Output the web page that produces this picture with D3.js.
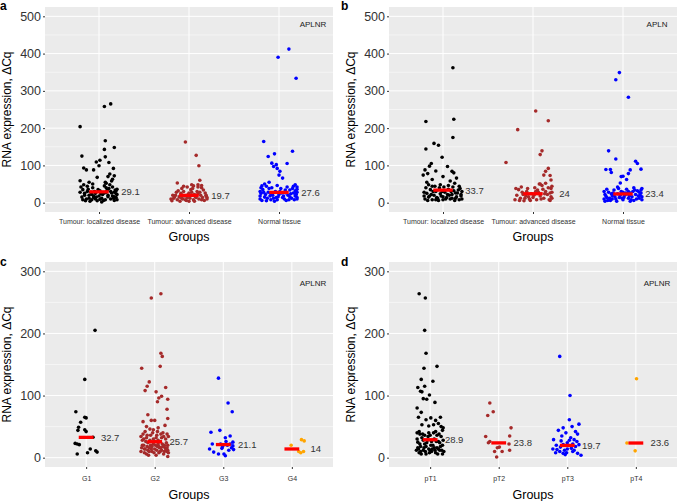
<!DOCTYPE html>
<html><head><meta charset="utf-8">
<script src="https://cdn.jsdelivr.net/npm/d3@7"></script>
<style>body{margin:0;background:#fff} text{font-family:"Liberation Sans",Arial,Helvetica,sans-serif}</style>
</head><body><svg id="chart" width="678" height="501"></svg>
<script>
// ---------- data ----------
const groupsTumour = ["Tumour: localized disease","Tumour: advanced disease","Normal tissue"];
const groupsGrade = ["G1","G2","G3","G4"];
const groupsStage = ["pT1","pT2","pT3","pT4"];
const ticksTop = [0,100,200,300,400,500];
const ticksBottom = [0,100,200,300];
const genes = ["APLNR","APLN","APLNR","APLNR"];
const medA = [29.1,19.7,27.6];
const medB = [33.7,24,23.4];
const medC = [32.7,25.7,21.1,14];
const medD = [28.9,23.8,19.7,23.6];
// points: [jitter (category units), value]
const aLocalized = [[0.13,265],[0.06,258],[-0.21,204],[0.07,166],[0.17,148],[0.06,143],[-0.19,125],[0.07,123],[0.01,114],[-0.03,109],[0.11,108],[-0.17,93],[-0.14,88],[-0.06,88],[0.16,92],[0.0,99],[0.12,77],[0.1,70],[0.17,72],[-0.21,59],[-0.11,55],[-0.07,50],[0.07,55],[0.15,63],[-0.02,68],
[-0.2,42],[-0.18,35],[-0.16,25],[-0.19,15],[-0.14,10],[-0.13,30],[-0.11,20],[-0.08,8],[-0.07,40],[-0.06,14],[-0.04,25],[-0.02,5],[0,18],[0.01,32],[0.03,12],[0.04,22],[0.06,45],[0.07,8],[0.08,28],[0.1,16],[0.11,38],[0.13,10],[0.14,26],[0.15,18],[0.17,6],[0.18,34],[0.19,14],[0.2,22],[-0.18,8],[-0.16,20],[-0.13,44],[-0.11,12],[-0.09,28],[-0.06,18],[-0.04,10],[-0.01,35],[0.02,24],[0.05,6],[0.08,40],[0.1,20],[0.13,30],[0.16,12],[0.19,24],[0.2,8],[-0.21,28],[-0.15,5],[-0.08,22],[-0.03,15],[0.03,2],[0.09,33],[0.15,42],[0.17,16],[-0.12,36],[0.06,26],[0.12,48],[0.2,36],[-0.17,48],[0.01,9],[0.17,28],[-0.05,30],[0.08,52],[0.14,58],[0.19,32],[-0.1,4]];
const aAdvanced = [[-0.04,163],[0.08,127],[0.11,99],[0.12,60],[-0.13,53],[0.1,48],[0.05,45],[-0.02,42],[0.14,40],[-0.08,38],[0.02,35],
[-0.19,5],[-0.17,12],[-0.15,20],[-0.13,8],[-0.11,15],[-0.09,25],[-0.07,10],[-0.05,18],[-0.03,6],[-0.01,22],[0.01,12],[0.03,28],[0.05,8],[0.07,16],[0.09,30],[0.11,10],[0.13,20],[0.15,14],[0.17,6],[0.19,18],[0.2,10],[-0.18,20],[-0.14,28],[-0.1,4],[-0.06,30],[-0.02,14],[0.02,20],[0.06,4],[0.1,24],[0.14,8],[0.18,26],[-0.16,16],[-0.12,32],[-0.08,12],[-0.04,8],[0,26],[0.04,38],[0.08,14],[0.12,28],[0.16,34],[0.2,14],[-0.2,10],[0.19,20],[-0.1,18],[0.0,4],[0.06,22],[0.1,42],[-0.06,44],[0.03,48],[0.14,46]];
const aNormal = [[0.11,412],[-0.01,390],[0.19,334],[-0.17,164],[0.15,138],[-0.05,131],[-0.12,124],[0.09,105],[-0.08,106],[-0.03,102],[-0.06,97],[-0.02,92],[0.01,84],[0.0,74],[0.04,66],[-0.11,55],[-0.16,50],[-0.19,45],[0.18,48],[0.2,42],
[-0.21,10],[-0.2,25],[-0.18,35],[-0.16,15],[-0.14,5],[-0.12,28],[-0.1,18],[-0.08,40],[-0.06,12],[-0.04,30],[-0.02,8],[0,22],[0.02,38],[0.04,14],[0.06,28],[0.08,6],[0.1,20],[0.12,34],[0.14,12],[0.16,26],[0.18,18],[0.19,30],[0.2,10],[-0.21,18],[-0.17,28],[-0.13,12],[-0.09,24],[-0.05,4],[-0.01,16],[0.03,26],[0.07,34],[0.11,8],[0.15,38],[0.19,22],[0.2,14],[-0.19,6],[-0.15,22],[-0.11,38],[-0.07,20],[-0.03,14],[0.01,30],[0.05,18],[0.09,42],[0.13,24],[0.17,8],[0.2,36],[-0.21,30],[0.2,28],[0.16,44],[0.12,16],[-0.14,44],[-0.02,46],[0.06,10],[-0.09,8],[0.18,32],[0.19,22],[-0.2,40],[0.08,26]];
const bLocalized = [[0.11,362],[-0.19,218],[0.12,224],[0.11,175],[-0.19,144],[-0.1,159],[-0.05,154],[-0.01,122],[0.05,97],[-0.13,105],[-0.15,98],[-0.2,88],[-0.17,78],[0.1,84],[0.12,80],[-0.08,85],[-0.22,74],[0.0,70],[0.15,66],[-0.12,62],[0.08,58],[-0.18,55],[0.13,52],[-0.03,48],
[-0.2,10],[-0.18,25],[-0.16,15],[-0.14,35],[-0.12,8],[-0.1,20],[-0.08,30],[-0.06,12],[-0.04,40],[-0.02,18],[0,8],[0.02,28],[0.04,14],[0.06,36],[0.08,10],[0.1,22],[0.12,32],[0.14,12],[0.16,26],[0.18,8],[0.2,18],[0.21,30],[-0.21,28],[-0.17,6],[-0.13,22],[-0.09,44],[-0.05,6],[-0.01,30],[0.03,10],[0.07,20],[0.11,42],[0.15,16],[0.19,38],[0.21,10],[-0.19,40],[-0.15,18],[-0.11,30],[-0.07,14],[-0.03,24],[0.01,42],[0.05,22],[0.09,30],[0.13,6],[0.17,34],[0.2,22],[-0.16,48],[0.0,16],[0.06,46],[0.18,44],[-0.21,18],[0.14,26],[-0.08,8],[0.1,12],[-0.12,44]];
const bAdvanced = [[0.03,246],[0.17,220],[-0.17,196],[-0.3,108],[0.1,139],[0.08,129],[0.17,92],[0.14,84],[0.12,74],[0.19,73],[0.2,61],[0.14,52],[0.08,50],
[-0.2,8],[-0.18,20],[-0.16,35],[-0.14,12],[-0.12,28],[-0.1,5],[-0.08,18],[-0.06,38],[-0.04,10],[-0.02,24],[0,14],[0.02,40],[0.04,8],[0.06,28],[0.08,18],[0.1,46],[0.12,12],[0.14,30],[0.16,22],[0.18,8],[0.2,38],[0.2,16],[0.21,28],[-0.19,38],[-0.15,6],[-0.11,22],[-0.07,30],[-0.03,6],[0.01,20],[0.05,34],[0.09,10],[0.13,24],[0.17,40],[0.19,6],[0.21,44],[-0.13,42],[-0.05,16],[0.03,30],[0.11,36],[0.19,26],[-0.09,12],[0.07,50],[0.21,12]];
const bNormal = [[-0.04,349],[-0.08,330],[0.06,283],[-0.16,139],[-0.08,117],[-0.19,89],[-0.14,89],[-0.13,81],[0.14,111],[0.16,105],[0.08,88],[0.06,78],[0.0,71],[-0.02,70],[0.04,62],[-0.03,53],[0.2,90],[0.21,38],
[-0.21,10],[-0.2,22],[-0.18,14],[-0.16,28],[-0.14,6],[-0.12,18],[-0.1,34],[-0.08,10],[-0.06,24],[-0.04,14],[-0.02,30],[0,8],[0.02,20],[0.04,36],[0.06,12],[0.08,26],[0.1,16],[0.12,6],[0.14,22],[0.16,32],[0.18,12],[0.2,26],[0.21,16],[-0.21,30],[-0.17,6],[-0.13,24],[-0.09,16],[-0.05,38],[-0.01,12],[0.03,26],[0.07,18],[0.11,30],[0.15,10],[0.19,20],[0.21,8],[-0.19,18],[-0.15,12],[-0.11,26],[-0.07,4],[-0.03,20],[0.01,14],[0.05,24],[0.09,8],[0.13,34],[0.17,18],[-0.18,36],[0.12,40],[-0.06,42],[0.0,28],[0.2,34],[-0.12,10],[0.08,4],[-0.2,4],[0.18,28],[0.06,30],[-0.1,22]];
const cG1 = [[0.13,205],[-0.02,126],[-0.15,74],[-0.02,65],[0.0,64],[-0.08,57],[-0.11,49],[-0.12,44],[0.0,42],[-0.02,45],[0.1,33],[-0.16,23],[-0.13,22],[-0.1,21],[0.06,14],[0.14,11],[0.16,9],[0.02,8],[-0.13,6]];
const cG2 = [[0.09,264],[-0.05,257],[0.09,168],[0.11,163],[0.08,147],[-0.19,144],[-0.08,122],[-0.11,115],[-0.14,108],[0.16,113],[0.02,106],[0.06,96],[0.1,99],[0.19,94],[0.04,90],[0.18,78],[-0.1,69],[-0.05,60],[0.19,63],[-0.17,58],[0.0,60],[-0.12,50],[0.15,52],[0.05,48],[-0.02,45],[0.18,38],
[-0.2,10],[-0.18,20],[-0.16,30],[-0.14,14],[-0.12,6],[-0.1,24],[-0.08,16],[-0.06,36],[-0.04,10],[-0.02,22],[0,14],[0.02,32],[0.04,18],[0.06,8],[0.08,26],[0.1,12],[0.12,40],[0.14,20],[0.16,30],[0.18,10],[0.19,20],[0.2,34],[-0.19,16],[-0.17,38],[-0.15,8],[-0.13,26],[-0.11,18],[-0.09,4],[-0.07,28],[-0.05,14],[-0.03,40],[-0.01,8],[0.01,20],[0.03,12],[0.05,28],[0.07,16],[0.09,38],[0.11,22],[0.13,6],[0.15,16],[0.17,24],[0.19,12],[0.2,8],[-0.18,28],[-0.14,42],[-0.1,12],[-0.06,20],[-0.02,30],[0.02,4],[0.06,18],[0.1,32],[0.14,10],[0.18,16],[-0.2,34],[-0.16,20],[-0.12,32],[-0.08,10],[-0.04,18],[0,26],[0.04,42],[0.08,10],[0.12,18],[0.16,12],[0.19,2],[-0.15,14],[0.05,22],[-0.07,46],[0.13,34],[0.03,36],[-0.11,36],[0.09,16]];
const cG3 = [[-0.07,128],[0.07,88],[0.13,74],[-0.18,41],[-0.05,44],[0.1,35],[0.03,32],[0.14,25],[0.04,26],[-0.16,22],[-0.04,22],[0.06,20],[0.1,22],[-0.01,18],[0.14,19],[-0.2,14],[0.15,13],[0.08,12],[-0.14,9],[-0.07,6],[0.01,6],[0.03,3],[-0.02,15],[0.12,16]];
const cG4 = [[-0.01,20],[0.14,29],[0.18,27],[0.1,10],[0.13,8],[0.17,10]];
const dT1 = [[-0.16,264],[-0.07,257],[-0.08,205],[-0.06,168],[0.1,147],[-0.09,144],[-0.13,126],[0.04,123],[-0.08,115],[-0.18,113],[-0.14,107],[-0.12,106],[-0.01,101],[-0.1,95],[-0.05,94],[0.07,89],[-0.19,80],[-0.13,73],[-0.17,65],[0.01,64],[-0.06,61],[0.15,65],[0.08,60],[-0.12,53],[0.05,53],[0.12,55],[-0.02,51],[0.16,50],[0.19,48],[-0.19,40],[-0.15,38],[0.18,44],
[-0.2,12],[-0.18,25],[-0.16,8],[-0.14,18],[-0.12,32],[-0.1,12],[-0.08,22],[-0.06,6],[-0.04,28],[-0.02,14],[0,36],[0.02,10],[0.04,20],[0.06,30],[0.08,8],[0.1,16],[0.12,26],[0.14,12],[0.16,34],[0.18,20],[0.2,10],[-0.19,30],[-0.17,14],[-0.15,22],[-0.13,6],[-0.11,38],[-0.09,16],[-0.07,10],[-0.05,24],[-0.03,34],[-0.01,8],[0.01,20],[0.03,14],[0.05,40],[0.07,12],[0.09,26],[0.11,6],[0.13,38],[0.15,18],[0.17,12],[0.19,28],[-0.18,16],[-0.14,10],[-0.1,28],[-0.06,18],[-0.02,40],[0.02,26],[0.06,16],[0.1,36],[0.14,24],[0.18,6],[-0.16,42],[0.0,12],[0.12,14],[-0.08,36],[0.08,42]];
const dT2 = [[-0.13,88],[-0.08,74],[-0.16,68],[0.18,48],[-0.19,34],[0.16,35],[-0.13,26],[-0.15,24],[0.15,22],[0.01,17],[-0.02,16],[0.05,10],[0.16,12],[-0.06,10],[-0.03,1]];
const dT3 = [[-0.11,163],[0.04,100],[0.03,61],[0.17,54],[-0.06,48],[0.07,50],[-0.13,44],[0.12,42],[-0.02,40],[0.15,38],[-0.2,29],[0.1,29],[-0.09,27],[0.03,28],[-0.06,21],[0.17,21],[-0.21,14],[-0.15,13],[-0.11,10],[-0.06,7],[-0.01,8],[0.06,15],[0.15,7],[0.2,4],[0.08,10],[0.0,24],[0.08,22],[-0.16,20],[-0.04,12],[0.12,18],[-0.1,17],[0.05,32],[-0.03,5],[0.1,12],[-0.17,8],[0.14,26],[0.0,14],[-0.08,35]];
const dT4 = [[0.01,127],[-0.13,23.6],[-0.01,11]];

// ---------- layout ----------
const colors = ["#000000","#A52A2A","#0000FF","#FFA500"];
const panels = [
  {letter:"a", gene:genes[0], cats:groupsTumour, pts:[aLocalized,aAdvanced,aNormal], med:medA, ticks:ticksTop, dom:[-25,525], x0:45, x1:333, y0:7, y1:212, lx:0, ly:10, xtOff:11.5, gtOff:28.5, geneOff:20},
  {letter:"b", gene:genes[1], cats:groupsTumour, pts:[bLocalized,bAdvanced,bNormal], med:medB, ticks:ticksTop, dom:[-25,525], x0:389, x1:677, y0:7, y1:212, lx:341, ly:10, xtOff:11.5, gtOff:28.5, geneOff:20},
  {letter:"c", gene:genes[2], cats:groupsGrade, pts:[cG1,cG2,cG3,cG4], med:medC, ticks:ticksBottom, dom:[-15,315], x0:45, x1:333, y0:262, y1:467, lx:0, ly:266, xtOff:13.5, gtOff:32, geneOff:24},
  {letter:"d", gene:genes[3], cats:groupsStage, pts:[dT1,dT2,dT3,dT4], med:medD, ticks:ticksBottom, dom:[-15,315], x0:389, x1:677, y0:262, y1:467, lx:341, ly:266, xtOff:13.5, gtOff:32, geneOff:24}
];

const svg = d3.select("#chart");
panels.forEach(p => {
  const g = svg.append("g");
  const x = d3.scalePoint().domain(p.cats).range([p.x0, p.x1]).padding(0.6);
  const y = d3.scaleLinear().domain(p.dom).range([p.y1, p.y0]);
  const step = x.step();
  g.append("rect").attr("x", p.x0).attr("y", p.y0).attr("width", p.x1 - p.x0).attr("height", p.y1 - p.y0).attr("fill", "#EBEBEB");
  const minor = p.ticks.slice(0, -1).map((t, i) => (t + p.ticks[i + 1]) / 2);
  g.selectAll(".mn").data(minor).join("line").attr("x1", p.x0).attr("x2", p.x1)
    .attr("y1", d => y(d)).attr("y2", d => y(d)).attr("stroke", "#fff").attr("stroke-width", 0.5);
  g.selectAll(".mj").data(p.ticks).join("line").attr("x1", p.x0).attr("x2", p.x1)
    .attr("y1", d => y(d)).attr("y2", d => y(d)).attr("stroke", "#fff").attr("stroke-width", 1);
  g.selectAll(".vx").data(p.cats).join("line").attr("y1", p.y0).attr("y2", p.y1)
    .attr("x1", d => x(d)).attr("x2", d => x(d)).attr("stroke", "#fff").attr("stroke-width", 1);

  const ay = g.append("g").attr("transform", `translate(${p.x0},0)`)
    .call(d3.axisLeft(y).tickValues(p.ticks).tickSize(2).tickPadding(2));
  ay.select(".domain").remove();
  ay.selectAll("line").attr("stroke", "#333");
  ay.selectAll("text").attr("font-size", 12.5).attr("fill", "#333");

  const ax = g.append("g").attr("transform", `translate(0,${p.y1})`)
    .call(d3.axisBottom(x).tickSize(2));
  ax.select(".domain").remove();
  ax.selectAll("line").attr("stroke", "#333");
  ax.selectAll("text").attr("font-size", 7).attr("fill", "#333").attr("dy", null).attr("y", p.xtOff);

  // points
  p.pts.forEach((arr, i) => {
    const cx = x(p.cats[i]);
    g.append("g").selectAll("circle").data(arr).join("circle")
      .attr("cx", d => cx + d[0] * step).attr("cy", d => y(d[1])).attr("r", 1.8)
      .attr("fill", colors[i]);
  });
  // median bars + labels
  p.med.forEach((m, i) => {
    const cx = x(p.cats[i]);
    g.append("line").attr("x1", cx - 0.108 * step).attr("x2", cx + 0.108 * step)
      .attr("y1", y(m)).attr("y2", y(m)).attr("stroke", "#FF0000").attr("stroke-width", 3.3);
    g.append("text").attr("x", cx + 0.35 * step).attr("y", y(m) + 3.4).attr("text-anchor", "middle")
      .attr("font-size", 9.5).attr("fill", "#333").text(String(m));
  });
  // gene label
  g.append("text").attr("x", p.x1 - 20).attr("y", p.y0 + p.geneOff).attr("text-anchor", "middle")
    .attr("font-size", 8).attr("fill", "#222").text(p.gene);
  // titles
  g.append("text").attr("transform", `translate(${p.x0 - 34},${(p.y0 + p.y1) / 2}) rotate(-90)`)
    .attr("text-anchor", "middle").attr("font-size", 12).attr("fill", "#000").text("RNA expression, \u0394Cq");
  g.append("text").attr("x", (p.x0 + p.x1) / 2).attr("y", p.y1 + p.gtOff).attr("text-anchor", "middle")
    .attr("font-size", 12.5).attr("fill", "#000").text("Groups");
  g.append("text").attr("x", p.lx).attr("y", p.ly).attr("font-size", 12).attr("font-weight", "bold")
    .attr("fill", "#000").text(p.letter);
});
</script></body></html>
